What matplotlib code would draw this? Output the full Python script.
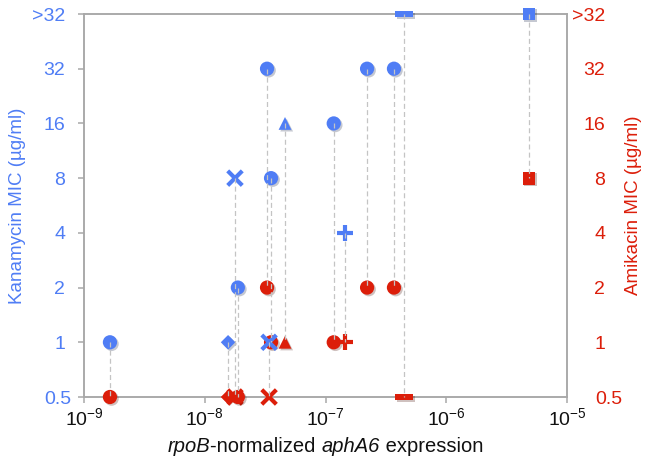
import numpy as np
import matplotlib
matplotlib.use("Agg")
import matplotlib.pyplot as plt
from matplotlib.path import Path
from matplotlib.transforms import ScaledTranslation
from matplotlib.offsetbox import TextArea, HPacker, AnchoredOffsetbox
import matplotlib.patheffects as pe

plt.rcParams['font.family'] = ['Liberation Sans', 'DejaVu Sans']
plt.rcParams['mathtext.fontset'] = 'custom'
plt.rcParams['mathtext.rm'] = 'Liberation Sans'
plt.rcParams['mathtext.it'] = 'Liberation Sans:italic'
plt.rcParams['mathtext.default'] = 'regular'

# ---- data ----
expression = [1.64e-9, 1.56e-8, 1.78e-8, 1.88e-8, 3.28e-8, 3.54e-8, 3.41e-8,
              4.62e-8, 1.17e-7, 1.45e-7, 2.21e-7, 3.69e-7, 4.47e-7, 4.84e-6]
kanamycin = ['1', '1', '8', '2', '32', '8', '1', '16', '16', '4', '32', '32', '>32', '>32']
amikacin = ['0.5', '0.5', '0.5', '0.5', '2', '1', '0.5', '1', '1', '1', '2', '2', '0.5', '8']
marker_kind = ['circle', 'diamond', 'x', 'circle', 'circle', 'circle', 'x',
               'triangle', 'circle', 'plus', 'circle', 'circle', 'bar', 'square']

mic_labels = ['0.5', '1', '2', '4', '8', '16', '32', '>32']
mic_values = [0.5, 1, 2, 4, 8, 16, 32, 64]
x_ticks = [1e-9, 1e-8, 1e-7, 1e-6, 1e-5]
x_ticklabels = [r'$10^{-9}$', r'$10^{-8}$', r'$10^{-7}$', r'$10^{-6}$', r'$10^{-5}$']
xlabel_parts = [('rpoB', 'italic'), ('-normalized ', 'normal'),
                ('aphA6', 'italic'), (' expression', 'normal')]

mic_map = dict(zip(mic_labels, mic_values))

BLUE = '#4F7DF5'
RED = '#DC1E0A'
GREY = '#A8A8A8'

bar_path = Path([(-1, -0.33), (1, -0.33), (1, 0.33), (-1, 0.33), (-1, -0.33)],
                [Path.MOVETO, Path.LINETO, Path.LINETO, Path.LINETO, Path.CLOSEPOLY])

style = {
    'circle': dict(marker='o', s=105, lw=0),
    'diamond': dict(marker='D', s=55, lw=0),
    'x': dict(marker='x', s=110, lw=3.0),
    'triangle': dict(marker='^', s=85, lw=0),
    'plus': dict(marker='+', s=130, lw=3.0),
    'bar': dict(marker=bar_path, s=170, lw=0),
    'square': dict(marker='s', s=85, lw=0),
}

fig = plt.figure(figsize=(6.51, 4.62), dpi=100)
ax = fig.add_axes([84/651, 65/462, 483/651, 383/462])
ax2 = ax.twinx()

shadow = [pe.SimplePatchShadow(offset=(1.2, -1.2), alpha=0.25), pe.Normal()]

def draw(axis, xv, yv, kind, color, z):
    st = style[kind]
    sc = axis.scatter([xv], [yv], marker=st['marker'], s=st['s'], c=color,
                      linewidths=st['lw'], zorder=z, clip_on=False)
    sc.set_path_effects(shadow)

for xv, k, a, kind in zip(expression, kanamycin, amikacin, marker_kind):
    draw(ax2, xv, mic_map[a], kind, RED, 3)
for xv, k, a, kind in zip(expression, kanamycin, amikacin, marker_kind):
    draw(ax2, xv, mic_map[k], kind, BLUE, 4)
for xv, k, a in zip(expression, kanamycin, amikacin):
    ax2.plot([xv, xv], [mic_map[k], mic_map[a]], ls=(0, (4, 2.5)), lw=0.9,
             color='#C4C4C4', zorder=5, clip_on=False)

for a in (ax, ax2):
    a.set_xscale('log')
    a.set_yscale('log', base=2)
    a.set_xlim(1e-9, 1e-5)
    a.set_ylim(0.5, 64)
    a.set_yticks(mic_values)
    a.minorticks_off()

ax.set_xticks(x_ticks)
ax.set_xticklabels(x_ticklabels)
ax.xaxis.set_minor_locator(matplotlib.ticker.NullLocator())
ax.set_yticklabels(mic_labels)
ax2.set_yticklabels(mic_labels)

for a in (ax, ax2):
    for s in a.spines.values():
        s.set_color(GREY)
        s.set_linewidth(1.1)
        s.set_zorder(1)

ax.tick_params(axis='x', direction='out', length=4.5, width=1.1, color=GREY,
               labelsize=14, pad=3, labelcolor='#111111')
ax.tick_params(axis='y', direction='out', length=4.5, width=1.1, color=GREY,
               labelsize=14, pad=9, labelcolor=BLUE)
ax2.tick_params(axis='y', right=True, length=0, labelsize=14, pad=27.5,
                labelcolor=RED)
for lbl in ax2.get_yticklabels():
    lbl.set_horizontalalignment('right')

fig.canvas.draw()
for lbl in ax.get_yticklabels():
    if lbl.get_text() == '0.5':
        lbl.set_transform(lbl.get_transform() + ScaledTranslation(6/100, 0, fig.dpi_scale_trans))
for lbl in ax2.get_yticklabels():
    if lbl.get_text() == '0.5':
        lbl.set_transform(lbl.get_transform() + ScaledTranslation(17/100, 0, fig.dpi_scale_trans))

ax.set_ylabel('Kanamycin MIC (µg/ml)', color=BLUE, fontsize=13.5)
ax.yaxis.set_label_coords(-0.12, 0.5)
ax2.set_ylabel('Amikacin MIC (µg/ml)', color=RED, fontsize=13.5)
ax2.yaxis.set_label_coords(1.12, 0.5)

parts = [TextArea(t, textprops=dict(fontsize=14.5, fontstyle=st, color='#111111'))
         for t, st in xlabel_parts]
pack = HPacker(children=parts, align='baseline', pad=0, sep=0)
anch = AnchoredOffsetbox(loc='center', child=pack, frameon=False,
                         bbox_to_anchor=(325.5/651, (462-447)/462),
                         bbox_transform=fig.transFigure, borderpad=0, pad=0)
fig.add_artist(anch)

fig.savefig('out.png', dpi=100)
